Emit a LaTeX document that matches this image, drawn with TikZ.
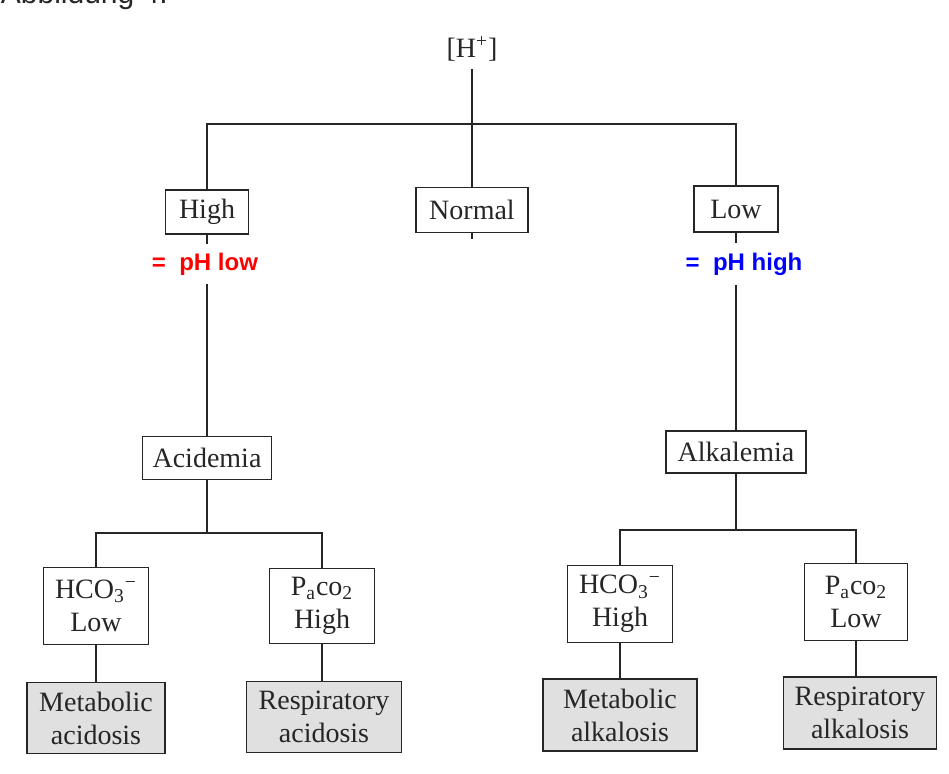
\documentclass[tikz,border=0pt]{standalone}
\usepackage{fontspec}
\setmainfont{Liberation Serif}
\newfontfamily\arialfont{Liberation Sans}
\usepackage{pgf,tikz}

\begin{document}
\begin{tikzpicture}[x=0.5pt,y=-0.5pt,line width=0.9pt,black!85,
  box/.style={rectangle, draw, inner sep=0pt, align=center, font=\fontsize{14}{16.5}\selectfont},
  result/.style={box, fill=black!12},
  note/.style={fill=white, inner sep=0pt, font=\arialfont\bfseries\fontsize{12}{14}\selectfont}]

\useasboundingbox (0,0) rectangle (949,773);
\clip (0,0) rectangle (949,773);

\draw (0,3) node (caption) [anchor=base west, inner sep=0pt, font=\arialfont\fontsize{15}{18}\selectfont] {Abbildung 4:};

\draw (472,49)   node (hplus) [font=\fontsize{14}{16}\selectfont] {[H\textsuperscript{+}]};

\draw (207,212)  node (high)   [box, minimum width=41.5pt, minimum height=22pt]   {High};
\draw (472,210)  node (normal) [box, minimum width=56pt,   minimum height=22.5pt] {Normal};
\draw (736,209)  node (low)    [box, minimum width=42pt,   minimum height=23pt]   {Low};

\draw (207,458)  node (acid)   [box, minimum width=64.5pt, minimum height=21.5pt] {Acidemia};
\draw (736,452)  node (alka)   [box, minimum width=70pt,   minimum height=21pt]   {Alkalemia};

\draw (96,606)   node (hco3low)  [box, minimum width=52.5pt, minimum height=38.5pt] {HCO\textsubscript{3}\textsuperscript{−}\\Low};
\draw (322,606)  node (pco2high) [box, minimum width=52.5pt, minimum height=37.5pt] {P\textsubscript{a}co\textsubscript{2}\\High};
\draw (620,604)  node (hco3high) [box, minimum width=52.5pt, minimum height=38.5pt] {HCO\textsubscript{3}\textsuperscript{−}\\High};
\draw (856,602)  node (pco2low)  [box, minimum width=51.5pt, minimum height=38.5pt] {P\textsubscript{a}co\textsubscript{2}\\Low};

\draw (96,718)   node (metac)  [result, minimum width=69pt,   minimum height=35.5pt] {Metabolic\\acidosis};
\draw (324,717)  node (respac) [result, minimum width=77.5pt, minimum height=35.5pt] {Respiratory\\acidosis};
\draw (620,715)  node (metal)  [result, minimum width=77pt,   minimum height=36pt]   {Metabolic\\alkalosis};
\draw (860,713)  node (respal) [result, minimum width=76.5pt, minimum height=36pt]   {Respiratory\\alkalosis};

% top level
\coordinate (top)   at (472,124);
\coordinate (nstub) at (472,239);
\draw (hplus) -- (normal);
\draw (high) |- (top) -| (low);
\draw (normal) -- (nstub);
\draw (high) -- (acid);
\draw (low) -- (alka);

% acidemia
\coordinate (lsplit) at (207,533);
\draw (acid) -- (lsplit);
\draw (hco3low) |- (lsplit) -| (pco2high);
\draw (hco3low) -- (metac);
\draw (pco2high.south) -- (pco2high.south |- respac.north);

% alkalemia
\coordinate (rsplit) at (736,530);
\draw (alka) -- (rsplit);
\draw (hco3high) |- (rsplit) -| (pco2low);
\draw (hco3high) -- (metal);
\draw (pco2low.south) -- (pco2low.south |- respal.north);

\draw (205,264)  node (phlow)  [note, text=red,  minimum height=20pt] {=\ \ pH low};
\draw (744,264)  node (phhigh) [note, text=blue, minimum height=21pt] {=\ \ pH high};

\end{tikzpicture}
\end{document}
